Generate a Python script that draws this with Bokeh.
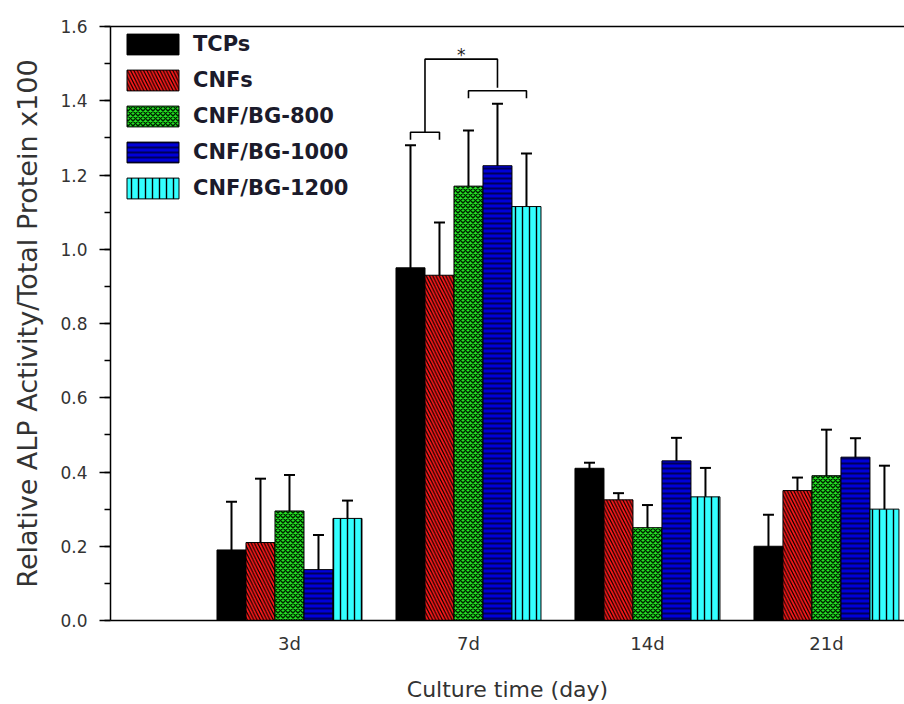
from bokeh.plotting import figure
from bokeh.models import (Range1d, FixedTicker, SingleIntervalTicker, PrintfTickFormatter,
                          Whisker, ColumnDataSource, LinearAxis, Legend, LegendItem, TeeHead)
from bokeh.core.properties import value
from bokeh.embed import file_html
from bokeh.resources import INLINE

# ---------------- data ----------------
categories = ["3d", "7d", "14d", "21d"]
series = ["TCPs", "CNFs", "CNF/BG-800", "CNF/BG-1000", "CNF/BG-1200"]

tcps = [0.19, 0.95, 0.41, 0.20]
cnfs = [0.21, 0.93, 0.325, 0.35]
bg800 = [0.295, 1.17, 0.25, 0.39]
bg1000 = [0.137, 1.225, 0.43, 0.44]
bg1200 = [0.275, 1.115, 0.333, 0.30]

tcps_err = [0.13, 0.33, 0.015, 0.085]
cnfs_err = [0.172, 0.142, 0.018, 0.035]
bg800_err = [0.097, 0.15, 0.061, 0.124]
bg1000_err = [0.093, 0.167, 0.062, 0.051]
bg1200_err = [0.048, 0.143, 0.078, 0.117]

y_ticks = [0.0, 0.2, 0.4, 0.6, 0.8, 1.0, 1.2, 1.4, 1.6]

# significance at 7d: left pair vs right group
sig_day = "7d"
sig_left = ["TCPs", "CNFs"]
sig_right = ["CNF/BG-800", "CNF/BG-1200"]
sig_label = "*"

means = [tcps, cnfs, bg800, bg1000, bg1200]
errs = [tcps_err, cnfs_err, bg800_err, bg1000_err, bg1200_err]

# ---------------- style ----------------
fills = ["#000000", "#ff1a1a", "#22e022", "#0000d8", "#33ffff"]
hatches = [None, "\\", "x", "-", "|"]
hatch_colors = ["#000000", "#000000", "#002200", "#00005a", "#000000"]
hatch_scales = [6, 6.5, 5, 5, 7]
hatch_weights = [1, 1.2, 1.4, 2.0, 1.4]

FONT = "DejaVu Sans"
bar_w = 0.162

p = figure(width=904, height=704, output_backend="svg", toolbar_location=None,
           x_range=Range1d(0, 4.436), y_range=Range1d(0, 1.6),
           min_border_left=110, min_border_right=0, min_border_top=26, min_border_bottom=82)
p.outline_line_color = None
p.xgrid.visible = False
p.ygrid.visible = False
p.background_fill_color = "white"
p.border_fill_color = "white"

renderers = []
for j, name in enumerate(series):
    xs = [i + 1 + (j - 2) * bar_w for i in range(len(categories))]
    src = ColumnDataSource(dict(x=xs, top=means[j],
                                upper=[m + e for m, e in zip(means[j], errs[j])],
                                lower=[m - e for m, e in zip(means[j], errs[j])]))
    kw = {}
    if hatches[j]:
        kw = dict(hatch_pattern=hatches[j], hatch_color=hatch_colors[j],
                  hatch_scale=hatch_scales[j], hatch_weight=hatch_weights[j])
    r = p.vbar(x="x", top="top", bottom=0, width=bar_w, source=src,
               fill_color=fills[j], line_color="black", line_width=1, **kw)
    renderers.append(r)
    w = Whisker(base="x", upper="upper", lower="lower", source=src, dimension="height",
                line_color="black", line_width=2,
                upper_head=TeeHead(size=11, line_color="black", line_width=2),
                lower_head=TeeHead(size=11, line_color="black", line_width=2))
    p.add_layout(w)

# significance brackets derived from bar positions / error tops
di = categories.index(sig_day)
def xpos(name):
    j = series.index(name)
    return di + 1 + (j - 2) * bar_w
def top_of(names):
    return max(means[series.index(n)][di] + errs[series.index(n)][di] for n in names)

l0, l1 = xpos(sig_left[0]), xpos(sig_left[-1])
r0, r1 = xpos(sig_right[0]), xpos(sig_right[-1])
right_members = series[series.index(sig_right[0]):series.index(sig_right[-1]) + 1]
yl = top_of(sig_left) + 0.035
yr = top_of(right_members) + 0.035
ytop = max(yl, yr) + 0.085
leg = 0.02
lm, rm = (l0 + l1) / 2, (r0 + r1) / 2
p.multi_line(xs=[[l0, l0, l1, l1], [r0, r0, r1, r1], [lm, lm, rm, rm]],
             ys=[[yl - leg, yl, yl, yl - leg], [yr - leg, yr, yr, yr - leg],
                 [yl, ytop, ytop, yr + 0.008]],
             line_color="black", line_width=1.6)
p.text(x=[(lm + rm) / 2], y=[ytop + 0.01], text=[sig_label], text_font=value(FONT),
       text_font_size="17px", text_align="center", text_baseline="middle",
       text_color="#222222")

# axes
ya = p.yaxis[0]
ya.ticker = SingleIntervalTicker(interval=0.2, num_minor_ticks=2)
ya.formatter = PrintfTickFormatter(format="%.1f")
ya.axis_label = "Relative ALP Activity/Total Protein x100"
ya.axis_label_text_font = FONT
ya.axis_label_text_font_size = "27px"
ya.axis_label_text_font_style = "normal"
ya.axis_label_text_color = "#333333"
ya.axis_label_standoff = 14
ya.major_label_text_font = FONT
ya.major_label_text_font_size = "17px"
ya.major_label_text_color = "#333333"
ya.major_label_standoff = 12
ya.major_tick_out = 11
ya.major_tick_in = 0
ya.minor_tick_out = 6
ya.minor_tick_in = 0
ya.axis_line_width = 1.5
ya.major_tick_line_width = 1.5
ya.minor_tick_line_width = 1.5

xa = p.xaxis[0]
xa.ticker = FixedTicker(ticks=[i + 1 for i in range(len(categories))])
xa.major_label_overrides = {i + 1: c for i, c in enumerate(categories)}
xa.axis_label = "Culture time (day)"
xa.axis_label_text_font = FONT
xa.axis_label_text_font_size = "22px"
xa.axis_label_text_font_style = "normal"
xa.axis_label_text_color = "#333333"
xa.axis_label_standoff = 20
xa.major_label_text_font = FONT
xa.major_label_text_font_size = "18px"
xa.major_label_text_color = "#333333"
xa.major_label_standoff = 12
xa.major_tick_out = 0
xa.major_tick_in = 0
xa.minor_tick_out = 0
xa.minor_tick_in = 0
xa.axis_line_width = 1.5

top_axis = LinearAxis(ticker=FixedTicker(ticks=[]), major_tick_out=0, major_tick_in=0,
                      minor_tick_out=0, minor_tick_in=0, axis_line_width=1.5,
                      major_label_text_font_size="0px")
p.add_layout(top_axis, "above")

legend = Legend(items=[LegendItem(label=s, renderers=[r]) for s, r in zip(series, renderers)],
                location=(10, 419), glyph_width=65, glyph_height=26, spacing=10,
                padding=0, margin=0, label_standoff=8,
                label_text_font=FONT, label_text_font_style="bold",
                label_text_font_size="21px", label_text_color="#1b1b2b",
                border_line_color=None, background_fill_alpha=0)
p.add_layout(legend)

open("out.html", "w").write(file_html(p, INLINE))
